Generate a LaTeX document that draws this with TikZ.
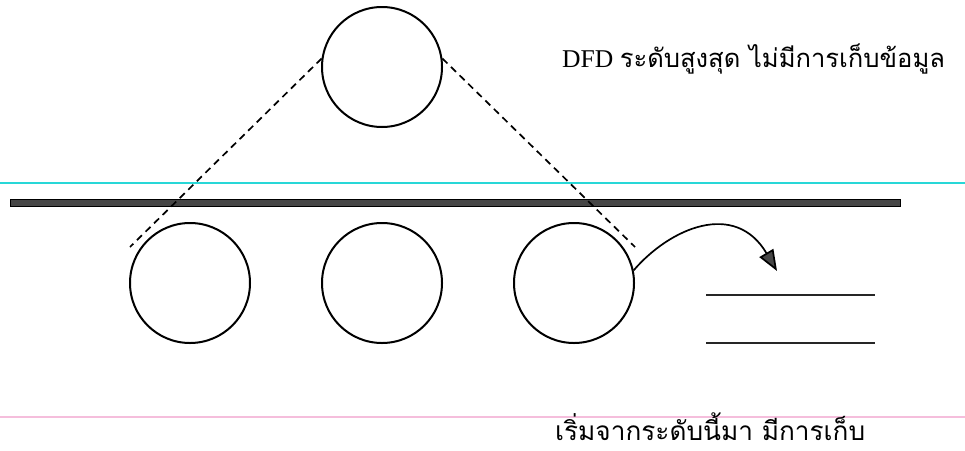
\documentclass[tikz,border=0pt]{standalone}
\usepackage{fontspec}
\usepackage{graphicx}
\setmainfont{Liberation Serif}
\newfontfamily\thaifont[Script=Thai]{Loma}
\usetikzlibrary{arrows.meta}
\definecolor{guidecyan}{RGB}{40,215,215}
\definecolor{guidepink}{RGB}{245,190,220}
\definecolor{bargray}{RGB}{70,70,70}
\tikzset{
  proc/.style={circle, draw=black, line width=2pt, minimum size=120pt, inner sep=0pt},
  link/.style={draw=black, line width=1.7pt, dash pattern=on 7pt off 5pt},
  flow/.style={draw=black, line width=1.7pt, -{Triangle[length=21pt,width=16pt,fill=bargray]}},
  storeline/.style={draw=black!85, line width=2.6pt},
  lbl/.style={inner sep=0pt, anchor=base west, font=\fontsize{28}{32}\selectfont}
}
\begin{document}
\begin{tikzpicture}[x=1pt,y=-1pt]
\useasboundingbox (0,0) rectangle (965,450);
\fill[white] (0,0) rectangle (965,450);
% guides
\draw[guidecyan, line width=1.2pt] (0,183) -- (965,183);
\draw[guidepink, line width=1.2pt] (0,417) -- (965,417);
% bar
\draw[fill=bargray, draw=black, line width=1pt] (10,199) rectangle (900,206);
% processes
\node[proc] (t) at (382,67) {};
\node[proc] (c1) at (190,283) {};
\node[proc] (c2) at (382,283) {};
\node[proc] (c3) at (574,283) {};
% dashed links
\coordinate (dl) at (130,247);
\coordinate (dr) at (635,247);
\draw[link] (t.172) -- (dl);
\draw[link] (t.8) -- (dr);
% data store
\coordinate (s1a) at (706,295);
\coordinate (s1b) at (875,295);
\coordinate (s2a) at (706,343);
\coordinate (s2b) at (875,343);
\draw[storeline] (s1a) -- (s1b);
\draw[storeline] (s2a) -- (s2b);
% flow arrow
\coordinate (ft) at (777,271);
\draw[flow] (c3.12) .. controls (670,228) and (735,200) .. (ft);
% labels
\node[lbl] (l1) at (562,67) {\resizebox{383pt}{!}{\rmfamily DFD {\thaifont ระดับสูงสุด ไม่มีการเก็บข้อมูล}}};
\node[lbl] (l2) at (555,440) {\resizebox{310pt}{!}{\thaifont เริ่มจากระดับนี้มา มีการเก็บ}};
\end{tikzpicture}
\end{document}
